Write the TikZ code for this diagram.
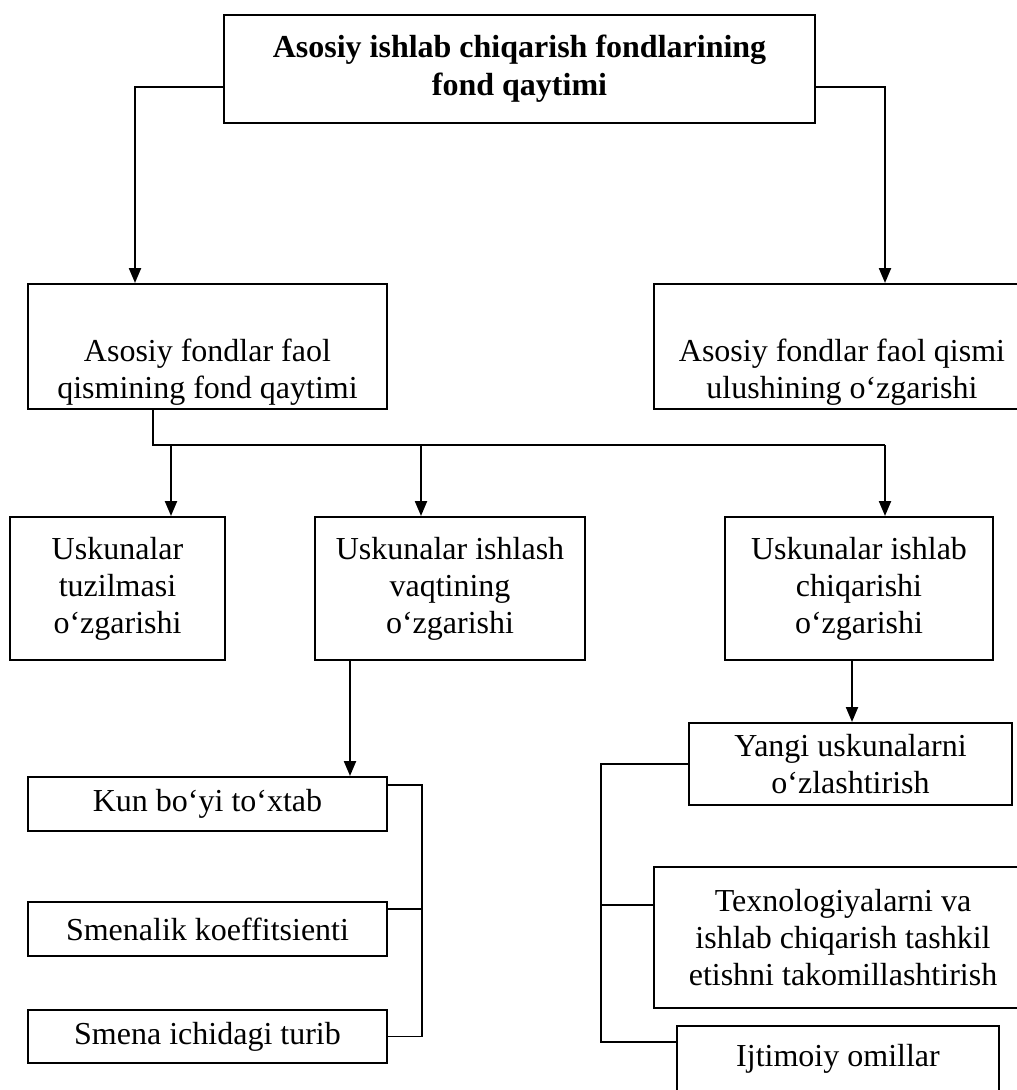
\documentclass[tikz,border=0pt]{standalone}
\usepackage{fontspec}
\setmainfont{Liberation Serif}
\usetikzlibrary{arrows.meta}

\begin{document}
\begin{tikzpicture}[
    x=1pt,y=-1pt,
    every node/.style={font=\fontsize{32}{37}\selectfont,align=center,inner sep=0pt},
    box/.style={draw,line width=2pt,rectangle},
    arr/.style={line width=2.2pt,-{Triangle[length=15pt,width=12pt]}},
    link/.style={line width=1.7pt}
]
\useasboundingbox (0,0) rectangle (1017,1090);
\clip (0,0) rectangle (1017,1090);

% yuqori blok
\node[box,minimum width=591pt,minimum height=108pt,font=\fontsize{32}{38}\selectfont\bfseries] (top) at (519.5,69)
    {Asosiy ishlab chiqarish fondlarining\\fond qaytimi};

% ikkinchi qator
\node[box,minimum width=359pt,minimum height=125pt] (faol) at (207.5,346.5) {};
\node (faoltxt) at ([yshift=-26pt]faol.center) {Asosiy fondlar faol\\qismining fond qaytimi};
\node[box,minimum width=376pt,minimum height=125pt] (ulush) at (842,346.5) {};
\node (ulushtxt) at ([yshift=-26pt]ulush.center) {Asosiy fondlar faol qismi\\ulushining o‘zgarishi};

% uchinchi qator
\node[box,minimum width=215pt,minimum height=143pt] (tuzil) at (117.5,588.5) {Uskunalar\\tuzilmasi\\o‘zgarishi};
\node[box,minimum width=270pt,minimum height=143pt] (vaqt) at (450,588.5) {Uskunalar ishlash\\vaqtining\\o‘zgarishi};
\node[box,minimum width=268pt,minimum height=143pt] (unum) at (859,588.5) {Uskunalar ishlab\\chiqarishi\\o‘zgarishi};

% chap ustun
\node[box,minimum width=359pt,minimum height=54pt] (kun) at (207.5,804) {Kun bo‘yi to‘xtab};
\node[box,minimum width=359pt,minimum height=54pt] (smena) at (207.5,929) {Smenalik koeffitsienti};
\node[box,minimum width=359pt,minimum height=53pt] (ichida) at (207.5,1036.5) {Smena ichidagi turib};

% o'ng ustun
\node[box,minimum width=323pt,minimum height=82pt] (yangi) at (850.5,764) {Yangi uskunalarni\\o‘zlashtirish};
\node[box,minimum width=378pt,minimum height=141pt] (texno) at (843,937.5)
    {Texnologiyalarni va\\ishlab chiqarish tashkil\\etishni takomillashtirish};
\node[box,minimum width=322pt,minimum height=66pt] (ijtim) at (838,1059) {Ijtimoiy omillar};

% strelkalar
\draw[arr] ([yshift=-18pt]top.west) -| ([xshift=108pt]faol.north west);
\draw[arr] ([yshift=-18pt]top.east) -| ([xshift=232pt]ulush.north west);

\coordinate (bus) at (0,445);
\coordinate (s1) at ([xshift=126pt]faol.south west);
\coordinate (d1) at ([xshift=162pt]tuzil.north west);
\coordinate (d2) at ([xshift=107pt]vaqt.north west);
\coordinate (d3) at ([xshift=161pt]unum.north west);
\draw[link] (s1) |- (d3 |- bus);
\draw[arr] (d1 |- bus) -- (d1);
\draw[arr] (d2 |- bus) -- (d2);
\draw[arr] (d3 |- bus) -- (d3);

\coordinate (v1) at ([xshift=36pt]vaqt.south west);
\draw[arr] (v1) -- (v1 |- kun.north);
\coordinate (u1) at ([xshift=128pt]unum.south west);
\draw[arr] (u1) -- (u1 |- yangi.north);

% qavslar
\coordinate (lb) at (422,0);
\coordinate (g1) at ([yshift=-8pt]smena.north east);
\draw[link] ([yshift=-9pt]kun.north east) -| (lb |- ichida.east) -- (ichida.east);
\draw[link] (g1) -- (g1 -| lb);

\coordinate (rb) at (601,0);
\coordinate (j1) at ([yshift=-39pt]texno.north west);
\coordinate (k1) at ([yshift=-17pt]ijtim.north west);
\draw[link] (yangi.west) -| (rb |- k1) -- (k1);
\draw[link] (j1) -- (j1 -| rb);
\end{tikzpicture}
\end{document}
